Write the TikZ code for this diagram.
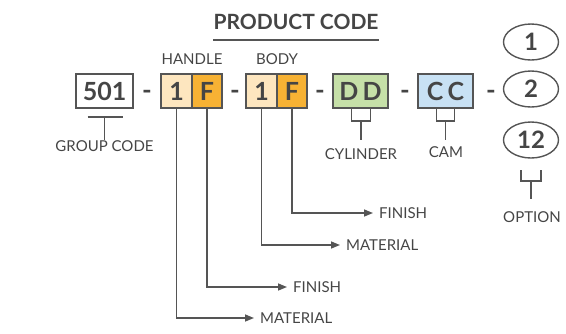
\documentclass[tikz,border=0pt]{standalone}
\usepackage{fontspec}
\setmainfont{Lato}
\usepackage{tikz}
\usetikzlibrary{positioning,arrows.meta,shapes.geometric,calc}
\definecolor{ink}{HTML}{454545}
\definecolor{lineink}{HTML}{555555}
\definecolor{paleorange}{HTML}{FDE6BF}
\definecolor{orange}{HTML}{F7B234}
\definecolor{sage}{HTML}{C6E0A8}
\definecolor{skyblue}{HTML}{C8E1F4}

\begin{document}
\begin{tikzpicture}[
  x=1pt, y=-1pt,
  codebox/.style={draw=lineink, line width=1.5pt, minimum height=34pt, inner sep=0pt, font=\fontsize{25}{25}\selectfont\bfseries\color{ink}},
  pick/.style={draw=lineink, line width=1.4pt, ellipse, minimum width=55pt, minimum height=36pt, inner sep=0pt, font=\fontsize{24}{24}\selectfont\bfseries\color{ink}},
  sep/.style={font=\fontsize{26}{26}\selectfont\bfseries\color{ink}},
  lbl/.style={font=\fontsize{15}{15}\selectfont\color{ink}, inner sep=1pt},
  ln/.style={lineink, line width=1.5pt},
  arr/.style={-{Triangle[length=9pt,width=7pt]}, lineink, line width=1.5pt, shorten >=5pt}
]
  \useasboundingbox (0,0) rectangle (566,333);

  % Title
  \node[font=\fontsize{21}{21}\selectfont\bfseries\color{ink}] (title) at (296,22) {PRODUCT CODE};
  \draw[ln] (213,40) -- (379,40);

  % Code boxes
  \node[codebox, minimum width=57pt] (grp) at (104.5,91) {501};
  \node[codebox, minimum width=31pt, fill=paleorange] (hmat) at (176.5,91) {1};
  \node[codebox, minimum width=30pt, fill=orange] (hfin) at (207,91) {F};
  \node[codebox, minimum width=31pt, fill=paleorange] (bmat) at (261.5,91) {1};
  \node[codebox, minimum width=30pt, fill=orange] (bfin) at (292,91) {F};
  \node[codebox, minimum width=55pt, fill=sage] (cyl) at (360.5,91) {D\,D};
  \node[codebox, minimum width=55pt, fill=skyblue] (cam) at (445.5,91) {C\,C};

  % Separators
  \node[sep] (s1) at (147,95) {-};
  \node[sep] (s2) at (235,95) {-};
  \node[sep] (s3) at (320,95) {-};
  \node[sep] (s4) at (405,95) {-};
  \node[sep] (s5) at (491,95) {-};

  % Options
  \node[pick] (opt1) at (531,42) {1};
  \node[pick] (opt2) at (531,89) {2};
  \node[pick] (opt3) at (531,140) {12};

  % Group labels
  \node[lbl] (handle) at (192,59) {HANDLE};
  \node[lbl] (body) at (277,59) {BODY};

  % Group code bracket
  \node[lbl, below=31pt of grp.south] (grptxt) {GROUP CODE};
  \draw[ln] ($(grp.south)+(-17,8)$) -- ($(grp.south)+(18,8)$);
  \draw[ln] ($(grp.south)+(0,8)$) -- ($(grp.south)+(0,31)$);

  % Cylinder and cam brackets
  \node[lbl] (cyltxt) at (361,154) {CYLINDER};
  \draw[ln] ($(cyl.south)+(-9,0)$) -- ++(0,12) -- ++(19,0) -- ++(0,-12);
  \draw[ln] ($(cyl.south)+(0.5,12)$) -- ++(0,19);
  \node[lbl] (camtxt) at (446,152) {CAM};
  \draw[ln] ($(cam.south)+(-9,0)$) -- ++(0,12) -- ++(18,0) -- ++(0,-12);
  \draw[ln] ($(cam.south)+(0,12)$) -- ++(0,19);

  % Option bracket
  \node[lbl] (opttxt) at (532,217) {OPTION};
  \draw[ln] (521,170) -- (521,181) -- (541,181) -- (541,170);
  \draw[ln] (531,181) -- (531,199);

  % Handle and body callouts
  \node[lbl, anchor=west] (hmattxt) at (259,318) {MATERIAL};
  \node[lbl, anchor=west] (hfintxt) at (292,287) {FINISH};
  \node[lbl, anchor=west] (bmattxt) at (345,245) {MATERIAL};
  \node[lbl, anchor=west] (bfintxt) at (378,213) {FINISH};
  \draw[arr] (hmat.south) |- (hmattxt.west);
  \draw[arr] (hfin.south) |- (hfintxt.west);
  \draw[arr] (bmat.south) |- (bmattxt.west);
  \draw[arr] (bfin.south) |- (bfintxt.west);
\end{tikzpicture}
\end{document}
